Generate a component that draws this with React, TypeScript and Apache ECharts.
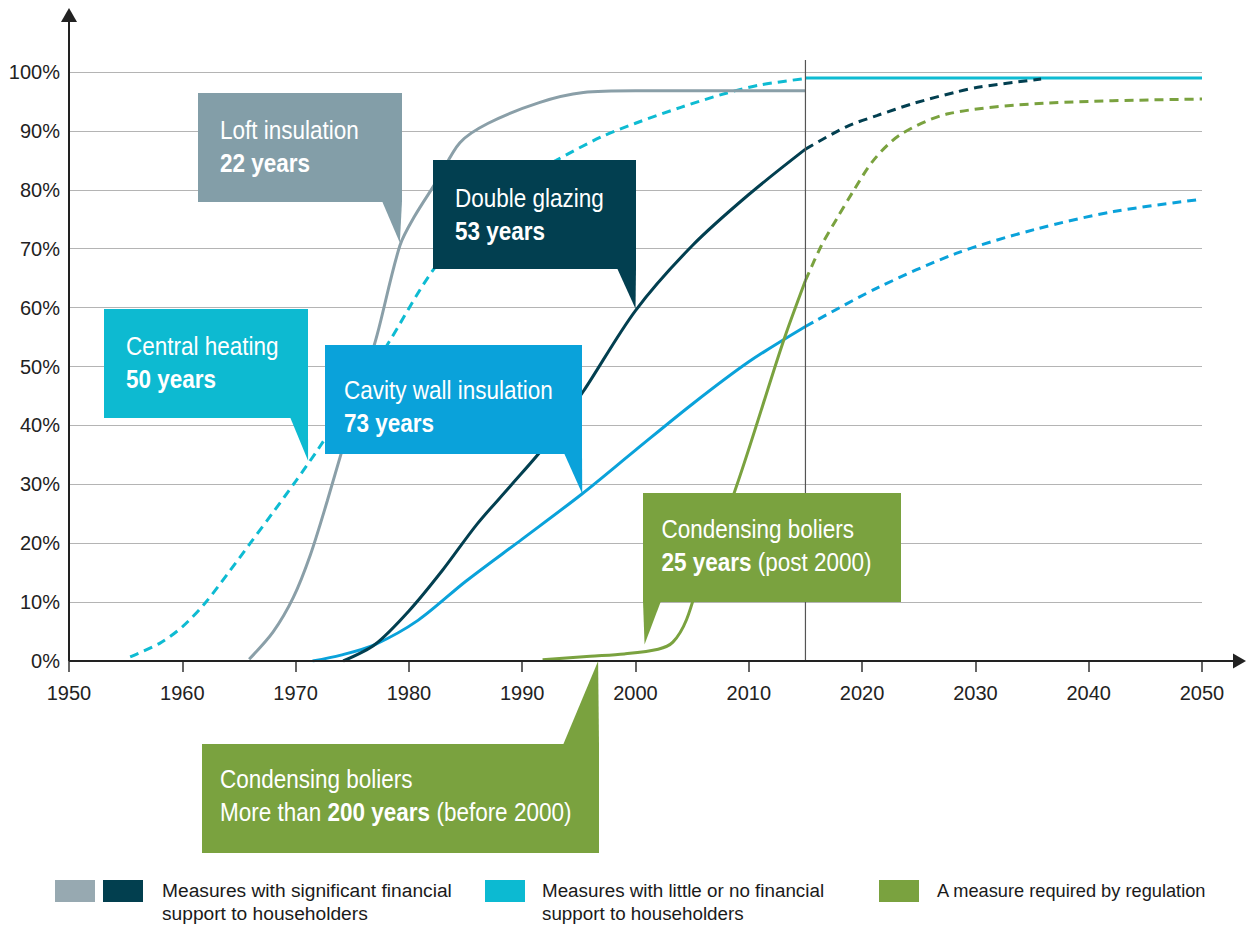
import React, { useEffect, useRef } from 'react';
import * as echarts from 'echarts';

// ---- Data (year, % of households) ----
const centralHeatingDashed = [
  [1955.4, 0.7], [1958, 3], [1960, 5.8], [1962, 9.8], [1964, 14.8], [1966, 20], [1968, 25.2],
  [1970, 30.5], [1972, 36], [1975, 44.8], [1978, 53.4], [1982, 66], [1986, 75], [1989, 80.5],
  [1993, 85], [1997, 89], [2000, 91.3], [2004, 94], [2008, 96.4], [2011, 97.8], [2015, 98.9],
];
const centralHeatingSolid = [[2015, 99], [2050, 99]];

const loftSolid = [
  [1965.9, 0.3], [1968, 4.9], [1969.8, 10.8], [1971.3, 18], [1972.8, 27.2], [1974.2, 36.4],
  [1975.7, 45.6], [1977.2, 55.4], [1979.2, 70.5], [1980.5, 75.5], [1982.5, 81.6], [1984.5, 88],
  [1987, 91.3], [1991.5, 94.8], [1995.4, 96.5], [2000, 96.8], [2015, 96.8],
];

const doubleGlazingSolid = [
  [1974.2, 0], [1977, 2.8], [1980, 8.5], [1983, 15.5], [1986, 23.2], [1989, 29.8], [1992, 36.5],
  [1995.4, 45.8], [2000, 59.5], [2005, 70.5], [2010, 79.2], [2015, 86.9],
];
const doubleGlazingDashed = [
  [2015, 86.9], [2018.6, 90.7], [2021.3, 92.6], [2024.6, 94.7], [2028.3, 96.6], [2030.5, 97.5], [2035.8, 98.8],
];

const cavityWallSolid = [
  [1971.5, 0], [1974, 1], [1977, 2.8], [1980.8, 6.9], [1985, 13.5], [1990, 20.7], [1995.3, 28.4],
  [2000, 35.8], [2005, 43.6], [2010, 50.8], [2015, 56.8],
];
const cavityWallDashed = [
  [2015, 56.8], [2021.3, 63.3], [2028.3, 69.2], [2035.3, 73.3], [2042.2, 76.3], [2050, 78.4],
];

const condensingSolid = [
  [1991.8, 0.2], [1996, 0.8], [1999, 1.2], [2002, 2], [2003.3, 3.2], [2004.5, 7], [2006, 16],
  [2008.7, 28.5], [2013, 54], [2015, 64.6],
];
const condensingDashed = [
  [2015, 64.6], [2016.4, 70.5], [2017.8, 75.2], [2019.2, 79.7], [2021, 85], [2023.4, 89.4],
  [2027.6, 92.9], [2036, 94.7], [2050, 95.4],
];

const yearTicks = { min: 1950, max: 2050, step: 10 };
const pctTicks = { min: 0, max: 100, step: 10 };
const forecastStartYear = 2015;

// callout anchor points (where each pointer touches its curve)
const loftAnchor = [1979.2, 71];
const centralAnchor = [1971.1, 34];
const doubleAnchor = [2000, 59.8];
const cavityAnchor = [1995.3, 28.4];
const condPostAnchor = [2000.8, 2.8];
const condBeforeAnchor = [1996.7, 0];

const C = {
  loft: '#8A9FA8',
  loftBox: '#839EA8',
  dark: '#023F50',
  cyan: '#0EBBD2',
  blue: '#0AA2DA',
  green: '#7AA23F',
};

const FONT = 'Liberation Sans, Arial, sans-serif';

function lineSeries(data: number[][], color: string, dashed: boolean) {
  return {
    type: 'line',
    data,
    smooth: 0.3,
    symbol: 'none',
    showSymbol: false,
    silent: true,
    z: 3,
    lineStyle: { color, width: 3, type: dashed ? [9, 6] : 'solid', cap: 'butt' },
  };
}

export default function App() {
  const ref = useRef<HTMLDivElement>(null);
  useEffect(() => {
    const chart = echarts.init(ref.current!, null, { renderer: 'svg' });
    chart.setOption({
      animation: false,
      backgroundColor: '#fff',
      grid: { left: 69, right: 44, top: 72, bottom: 265, containLabel: false },
      xAxis: {
        type: 'value',
        min: yearTicks.min,
        max: yearTicks.max,
        interval: yearTicks.step,
        offset: 6,
        axisLine: { show: false },
        axisTick: { show: true, length: 11, lineStyle: { color: '#333', width: 1.5 } },
        axisLabel: { fontSize: 20, color: '#222', fontFamily: FONT, margin: 16, formatter: (v: number) => String(v) },
        splitLine: { show: false },
      },
      yAxis: {
        type: 'value',
        min: pctTicks.min,
        max: pctTicks.max,
        interval: pctTicks.step,
        axisLine: { show: false },
        axisTick: { show: false },
        axisLabel: { formatter: '{value}%', fontSize: 20, color: '#222', fontFamily: FONT, margin: 9 },
        splitLine: { lineStyle: { color: '#b4b4b4', width: 1.2 } },
      },
      series: [
        lineSeries(centralHeatingDashed, C.cyan, true),
        lineSeries(centralHeatingSolid, C.cyan, false),
        lineSeries(loftSolid, C.loft, false),
        lineSeries(cavityWallSolid, C.blue, false),
        lineSeries(cavityWallDashed, C.blue, true),
        lineSeries(doubleGlazingSolid, C.dark, false),
        lineSeries(doubleGlazingDashed, C.dark, true),
        lineSeries(condensingSolid, C.green, false),
        lineSeries(condensingDashed, C.green, true),
      ],
    });

    const px = (p: number[]) => chart.convertToPixel({ gridIndex: 0 }, p) as number[];
    const origin = px([yearTicks.min, 0]);
    const x0 = origin[0];
    const y0 = origin[1];
    const xF = px([forecastStartYear, 0])[0];

    const rich = (size: number) => ({
      r: { fontSize: size, fontFamily: FONT, fill: '#fff', lineHeight: 33 },
      b: { fontSize: size, fontFamily: FONT, fontWeight: 'bold', fill: '#fff', lineHeight: 33 },
    });

    type Callout = {
      text: string; box: number[]; ptr: number[]; side: 'bottom' | 'top'; anchor: number[];
      color: string; tx: number; ty: number;
    };
    const callouts: Callout[] = [
      { text: '{r|Loft insulation}\n{b|22 years}', box: [198, 93, 204, 109], ptr: [382, 402], side: 'bottom', anchor: loftAnchor, color: C.loftBox, tx: 220, ty: 113.5 },
      { text: '{r|Central heating}\n{b|50 years}', box: [104, 309, 204, 109], ptr: [290, 308], side: 'bottom', anchor: centralAnchor, color: '#0DBAD1', tx: 126, ty: 330 },
      { text: '{r|Double glazing}\n{b|53 years}', box: [433, 160, 203, 109], ptr: [617, 636], side: 'bottom', anchor: doubleAnchor, color: '#023F50', tx: 455, ty: 181.5 },
      { text: '{r|Cavity wall insulation}\n{b|73 years}', box: [325, 345, 257, 109], ptr: [564, 582], side: 'bottom', anchor: cavityAnchor, color: '#0AA2DA', tx: 344, ty: 373.5 },
      { text: '{r|Condensing boliers}\n{b|25 years}{r| (post 2000)}', box: [643, 493, 258, 109], ptr: [643, 661], side: 'bottom', anchor: condPostAnchor, color: C.green, tx: 661.5, ty: 512.5 },
      { text: '{r|Condensing boliers}\n{r|More than }{b|200 years}{r| (before 2000)}', box: [202, 744, 397, 109], ptr: [563, 599], side: 'top', anchor: condBeforeAnchor, color: C.green, tx: 220, ty: 763 },
    ];

    const graphics: any[] = [];
    // forecast divider
    graphics.push({ type: 'line', z: 50, shape: { x1: xF, y1: 60, x2: xF, y2: y0 }, style: { stroke: '#555', lineWidth: 1.2 } });
    // axes with arrows
    graphics.push({ type: 'line', z: 60, shape: { x1: x0, y1: y0, x2: x0, y2: 20 }, style: { stroke: '#222', lineWidth: 2 } });
    graphics.push({ type: 'polygon', z: 60, shape: { points: [[x0, 8], [x0 - 8, 22], [x0 + 8, 22]] }, style: { fill: '#222' } });
    graphics.push({ type: 'line', z: 60, shape: { x1: x0, y1: y0, x2: 1236, y2: y0 }, style: { stroke: '#222', lineWidth: 2 } });
    graphics.push({ type: 'polygon', z: 60, shape: { points: [[1233, y0 - 7.5], [1246, y0], [1233, y0 + 7.5]] }, style: { fill: '#222' } });

    callouts.forEach((c) => {
      const [bx, by, bw, bh] = c.box;
      const tip = px(c.anchor);
      const edge = c.side === 'bottom' ? by + bh - 1 : by + 1;
      graphics.push({ type: 'rect', z: 100, shape: { x: bx, y: by, width: bw, height: bh }, style: { fill: c.color } });
      graphics.push({ type: 'polygon', z: 100, shape: { points: [[c.ptr[0], edge], [c.ptr[1], edge], [tip[0], tip[1]]] }, style: { fill: c.color } });
      graphics.push({
        type: 'text', z: 101, x: c.tx, y: c.ty, scaleX: 0.9,
        style: { text: c.text, rich: rich(25), fill: '#fff', align: 'left', verticalAlign: 'top' },
      });
    });

    // legend
    const legendText = { fontSize: 19, fontFamily: FONT, fill: '#1a1a1a', lineHeight: 23 };
    graphics.push({ type: 'rect', z: 100, shape: { x: 55, y: 880, width: 40, height: 22 }, style: { fill: '#97A9B1' } });
    graphics.push({ type: 'rect', z: 100, shape: { x: 103, y: 880, width: 40, height: 22 }, style: { fill: '#023F4F' } });
    graphics.push({ type: 'text', z: 100, x: 162, y: 879, scaleX: 1.01, style: { text: 'Measures with significant financial\nsupport to householders', ...legendText } });
    graphics.push({ type: 'rect', z: 100, shape: { x: 485, y: 880, width: 40, height: 22 }, style: { fill: '#0CBAD2' } });
    graphics.push({ type: 'text', z: 100, x: 542, y: 879, scaleX: 0.99, style: { text: 'Measures with little or no financial\nsupport to householders', ...legendText } });
    graphics.push({ type: 'rect', z: 100, shape: { x: 879, y: 880, width: 40, height: 22 }, style: { fill: '#7AA23F' } });
    graphics.push({ type: 'text', z: 100, x: 937, y: 879, scaleX: 0.96, style: { text: 'A measure required by regulation', ...legendText } });

    chart.setOption({ graphic: graphics });
    return () => chart.dispose();
  }, []);
  return (
    <div
      ref={ref}
      style={{ position: 'fixed', left: 0, top: 0, width: 1246, height: 926, background: '#fff' }}
    />
  );
}
